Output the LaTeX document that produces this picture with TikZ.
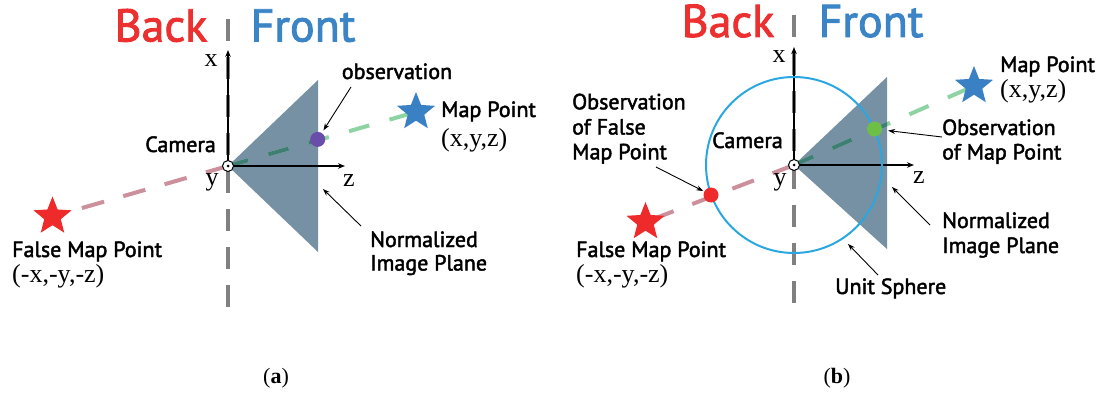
\documentclass[tikz,border=0pt]{standalone}
\usepackage{fontspec}
\setmainfont{Liberation Serif}
\newfontfamily\lblfont{PT Sans}
\newfontfamily\sidefont{PT Sans}
\usetikzlibrary{arrows.meta,shapes.geometric}
\definecolor{backred}{HTML}{EC2F2F}
\definecolor{frontblue}{HTML}{3B84C6}
\definecolor{planegray}{HTML}{7691A4}
\definecolor{starblue}{HTML}{3A80C5}
\definecolor{starred}{HTML}{EE2A2A}
\definecolor{obspurple}{HTML}{6A4CAA}
\definecolor{obsgreen}{HTML}{6DBF46}
\definecolor{spherecyan}{HTML}{2AA7E1}
\definecolor{raygreen}{HTML}{8ED4A3}
\definecolor{rayteal}{HTML}{3F7E72}
\definecolor{raypink}{HTML}{CC8F9C}
\definecolor{dashgray}{HTML}{808080}
\tikzset{
  heavy/.style={execute at begin node={\special{pdf:literal direct 2 Tr #1 w}},
                execute at end node={\special{pdf:literal direct 0 Tr}}},
  sidelbl/.style={font=\sidefont\fontsize{46}{48}\selectfont, inner sep=0pt, anchor=base, heavy=0.9},
  lbl/.style={font=\lblfont\fontsize{22}{24}\selectfont, inner sep=0pt, anchor=base west, heavy=0.45},
  axlbl/.style={font=\fontsize{26}{28}\selectfont, inner sep=0pt, anchor=base},
  coordlbl/.style={font=\fontsize{26}{28}\selectfont, inner sep=0pt, anchor=base west},
  caplbl/.style={font=\fontsize{22}{24}\selectfont, inner sep=0pt, anchor=base},
  divider/.style={draw=dashgray, line width=3.5pt, dash pattern=on 22pt off 16pt},
  plane/.style={fill=planegray},
  pinkray/.style={draw=raypink, line width=4pt, dash pattern=on 23pt off 20pt},
  greenray/.style={draw=raygreen, line width=4pt, dash pattern=on 21pt off 21pt},
  axisarrow/.style={line width=1.2pt, -{Stealth[length=7pt,width=5.5pt]}},
  annot/.style={line width=0.9pt, -{Stealth[length=7pt,width=5pt]}},
  campt/.style={circle, draw=black, fill=white, line width=1pt, minimum size=11pt, inner sep=0pt},
  obsdot/.style={circle, inner sep=0pt, minimum size=15pt},
  starnode/.style={star, star points=5, star point ratio=2.3, inner sep=0pt, minimum size=40pt},
}
\begin{document}
\begin{tikzpicture}[x=1pt, y=-1pt]
\useasboundingbox (0,0) rectangle (1106,396);

% ================= panel (a) =================
\coordinate (ca) at (228,166);
\coordinate (divtopa) at (228,19);
\coordinate (divbota) at (228,313);
\coordinate (msa) at (416,112);
\coordinate (fsa) at (52.5,216.5);
\coordinate (xtipa) at (228,50);
\coordinate (ztipa) at (345,166);
\coordinate (pta) at (318,80);
\coordinate (pba) at (318,252);

\draw[divider] (divtopa) -- (divbota);
\fill[plane] (ca) -- (pta) -- (pba) -- cycle;
\draw[pinkray] (ca) -- (fsa);
\draw[greenray] (ca) -- (msa);
\begin{scope}
  \clip (ca) -- (pta) -- (pba) -- cycle;
  \draw[greenray, draw=rayteal] (ca) -- (msa);
\end{scope}
\draw[axisarrow] (ca) -- (xtipa);
\draw[axisarrow] (ca) -- (ztipa);
\node[campt] (cama) at (ca) {};
\fill (cama.center) circle (1.5pt);
\node[obsdot, fill=obspurple] (dota) at (317.7,139.4) {};
\node[starnode, fill=starblue] (mstara) at (msa) {};
\node[starnode, fill=starred] (fstara) at (fsa) {};

\node[sidelbl, text=backred] (backa) at (161,41.5) {Back};
\node[sidelbl, text=frontblue] (fronta) at (303,41.5) {Front};
\node[axlbl] (xla) at (211,66.5) {x};
\node[axlbl] (yla) at (212,185) {y};
\node[axlbl] (zla) at (349,186) {z};
\node[lbl, anchor=base east] (camla) at (216,152) {Camera};
\node[lbl, anchor=base] (obsla) at (397,79) {observation};
\node[lbl] (mpla) at (441,117) {Map Point};
\node[coordlbl] (mpca) at (441,146) {(x,y,z)};
\node[lbl] (fmpla) at (12,257) {False Map Point};
\node[coordlbl] (fmpca) at (12,282) {(-x,-y,-z)};
\node[lbl] (norma1) at (370,247) {Normalized};
\node[lbl] (norma2) at (370,270.5) {Image Plane};

\coordinate (obstaila) at (351,87);
\coordinate (normtaila) at (361,226);
\coordinate (normheada) at (323,189);
\draw[annot, shorten >=3pt] (obstaila) -- (dota);
\draw[annot] (normtaila) -- (normheada);

\node[caplbl] (capa) at (276,383) {({\bfseries a})};

% ================= panel (b) =================
\coordinate (cb) at (794,165);
\coordinate (divtopb) at (794,15);
\coordinate (divbotb) at (794,312);
\coordinate (msb) at (974,86);
\coordinate (fsb) at (645.5,222);
\coordinate (xtipb) at (794,47);
\coordinate (ztipb) at (914,165);
\coordinate (ptb) at (887,77);
\coordinate (pbb) at (887,249);

\draw[divider] (divtopb) -- (divbotb);
\fill[plane] (cb) -- (ptb) -- (pbb) -- cycle;
\draw[pinkray] (cb) -- (fsb);
\draw[greenray] (cb) -- (msb);
\begin{scope}
  \clip (cb) -- (ptb) -- (pbb) -- cycle;
  \draw[greenray, draw=rayteal] (cb) -- (msb);
\end{scope}
\draw[axisarrow] (cb) -- (xtipb);
\draw[axisarrow] (cb) -- (ztipb);
\node[circle, draw=spherecyan, line width=2pt, minimum size=176pt, inner sep=0pt] (sphere) at (cb) {};
\node[campt] (camb) at (cb) {};
\fill (camb.center) circle (1.5pt);
\node[obsdot, fill=obsgreen] (gdotb) at (874.5,129) {};
\node[obsdot, fill=starred] (rdotb) at (711,195) {};
\node[starnode, fill=starblue] (mstarb) at (msb) {};
\node[starnode, fill=starred] (fstarb) at (fsb) {};

\node[sidelbl, text=backred] (backb) at (728,37) {Back};
\node[sidelbl, text=frontblue] (frontb) at (871,37) {Front};
\node[axlbl] (xlb) at (779,63) {x};
\node[axlbl] (ylb) at (780,185) {y};
\node[axlbl] (zlb) at (919,183) {z};
\node[lbl] (camlb) at (712,148) {Camera};
\node[lbl] (mplb) at (1000,72) {Map Point};
\node[coordlbl] (mpcb) at (1000,98) {(x,y,z)};
\node[lbl] (omp1) at (942,135) {Observation};
\node[lbl] (omp2) at (942,159.5) {of Map Point};
\node[lbl] (ofm1) at (572,109.3) {Observation};
\node[lbl] (ofm2) at (572,134.5) {of False};
\node[lbl] (ofm3) at (572,159.3) {Map Point};
\node[lbl] (fmplb) at (576,257) {False Map Point};
\node[coordlbl] (fmpcb) at (576,282) {(-x,-y,-z)};
\node[lbl] (normb1) at (942,228) {Normalized};
\node[lbl] (normb2) at (942,253) {Image Plane};
\node[lbl] (unitb) at (835,294) {Unit Sphere};

\coordinate (ofmtail) at (656,167);
\coordinate (omptail) at (942,137);
\coordinate (normtailb) at (930,225);
\coordinate (normheadb) at (892,187);
\coordinate (unittail) at (878,275);
\coordinate (unithead) at (848,244);
\draw[annot, shorten >=1pt] (ofmtail) -- (rdotb);
\draw[annot, shorten >=6pt] (omptail) -- (gdotb);
\draw[annot] (normtailb) -- (normheadb);
\draw[annot] (unittail) -- (unithead);

\node[caplbl] (capb) at (837,383) {({\bfseries b})};
\end{tikzpicture}
\end{document}
